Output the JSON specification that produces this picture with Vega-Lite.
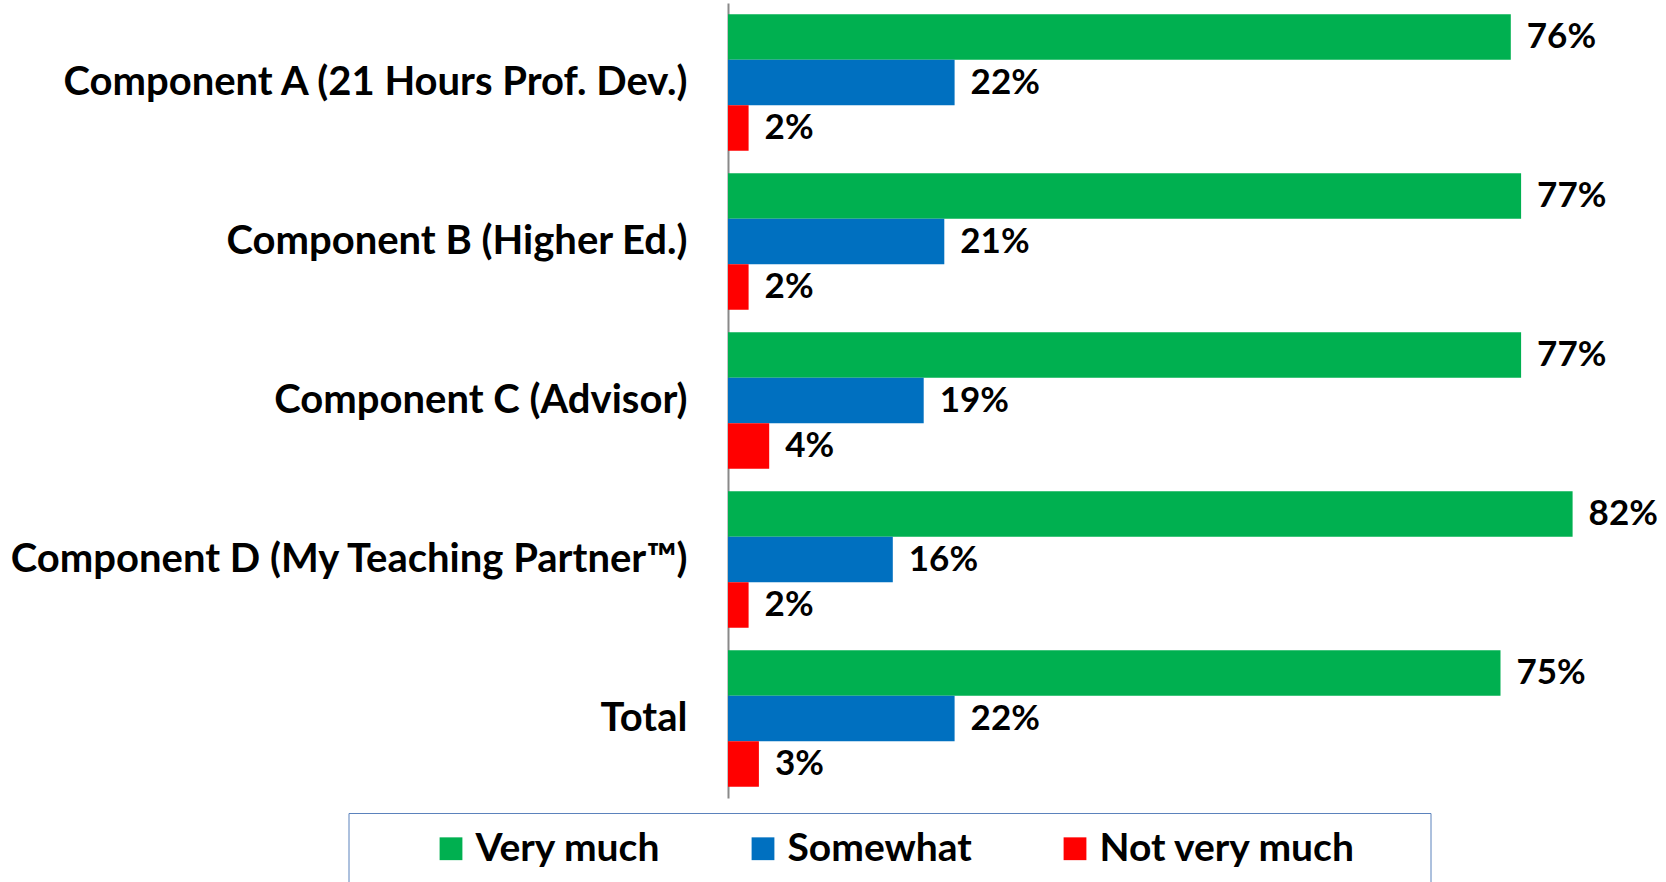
{
  "$schema": "https://vega.github.io/schema/vega-lite/v6.json",
  "autosize": "none",
  "width": 927,
  "height": 795,
  "padding": {"left": 728, "top": 3, "right": 11, "bottom": 84},
  "background": "white",
  "config": {
    "view": {"stroke": null},
    "font": "Lato"
  },
  "data": {
    "values": [
      {"component": "Component A (21 Hours Prof. Dev.)", "response": "Very much", "value": 0.76},
      {"component": "Component A (21 Hours Prof. Dev.)", "response": "Somewhat", "value": 0.22},
      {"component": "Component A (21 Hours Prof. Dev.)", "response": "Not very much", "value": 0.02},
      {"component": "Component B (Higher Ed.)", "response": "Very much", "value": 0.77},
      {"component": "Component B (Higher Ed.)", "response": "Somewhat", "value": 0.21},
      {"component": "Component B (Higher Ed.)", "response": "Not very much", "value": 0.02},
      {"component": "Component C (Advisor)", "response": "Very much", "value": 0.77},
      {"component": "Component C (Advisor)", "response": "Somewhat", "value": 0.19},
      {"component": "Component C (Advisor)", "response": "Not very much", "value": 0.04},
      {"component": "Component D (My Teaching Partner™)", "response": "Very much", "value": 0.82},
      {"component": "Component D (My Teaching Partner™)", "response": "Somewhat", "value": 0.16},
      {"component": "Component D (My Teaching Partner™)", "response": "Not very much", "value": 0.02},
      {"component": "Total", "response": "Very much", "value": 0.75},
      {"component": "Total", "response": "Somewhat", "value": 0.22},
      {"component": "Total", "response": "Not very much", "value": 0.03}
    ]
  },
  "encoding": {
    "y": {
      "field": "component",
      "type": "nominal",
      "sort": null,
      "scale": {"paddingInner": 0.143, "paddingOuter": 0.0715},
      "axis": {
        "title": null,
        "ticks": false,
        "labelFont": "Lato",
        "labelFontWeight": "bold",
        "labelFontSize": 40,
        "labelColor": "black",
        "labelPadding": 41,
        "labelLimit": 800,
        "domainColor": "#898989",
        "domainWidth": 2,
        "grid": false
      }
    },
    "yOffset": {
      "field": "response",
      "type": "nominal",
      "sort": ["Very much", "Somewhat", "Not very much"],
      "scale": {"paddingInner": 0, "paddingOuter": 0}
    },
    "x": {
      "field": "value",
      "type": "quantitative",
      "scale": {"domain": [0, 0.9], "nice": false},
      "axis": null
    }
  },
  "layer": [
    {
      "mark": {"type": "bar", "cornerRadius": 0},
      "encoding": {
        "color": {
          "field": "response",
          "type": "nominal",
          "sort": ["Very much", "Somewhat", "Not very much"],
          "scale": {
            "domain": ["Very much", "Somewhat", "Not very much"],
            "range": ["#00B050", "#0070C0", "#FF0000"]
          },
          "legend": {
            "title": "..",
            "titleOrient": "right",
            "titleColor": "white",
            "titleFontSize": 39,
            "titlePadding": 40,
            "orient": "none",
            "direction": "horizontal",
            "legendX": -379.5,
            "legendY": 810,
            "symbolType": "square",
            "symbolSize": 520,
            "symbolStrokeWidth": 0,
            "symbolOpacity": 1,
            "labelFont": "Lato",
            "labelFontWeight": "bold",
            "labelFontSize": 39,
            "labelColor": "black",
            "labelOffset": 5,
            "columnPadding": 16,
            "padding": 16,
            "symbolOffset": 67,
            "strokeColor": "#5B82BC",
            "fillColor": "white",
            "labelLimit": 600
          }
        }
      }
    },
    {
      "mark": {
        "type": "text",
        "align": "left",
        "baseline": "middle",
        "dx": 16,
        "font": "Lato",
        "fontWeight": "bold",
        "fontSize": 35,
        "color": "black"
      },
      "encoding": {
        "text": {"field": "value", "type": "quantitative", "format": ".0%"}
      }
    }
  ]
}
